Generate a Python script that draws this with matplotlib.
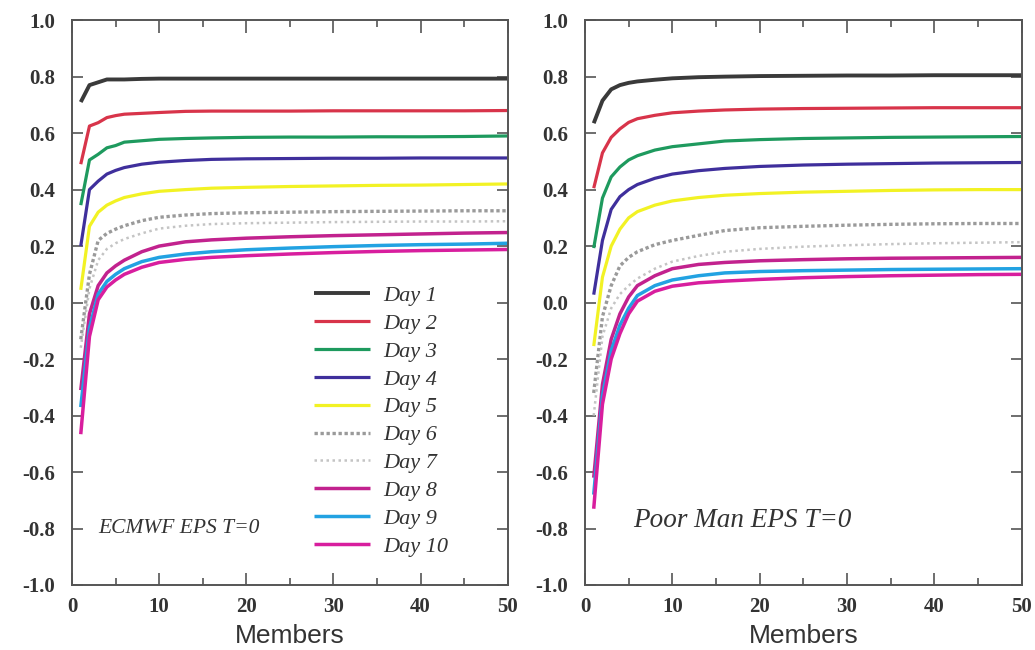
import numpy as np
import matplotlib
matplotlib.use('Agg')
from matplotlib import pyplot as plt
from matplotlib.ticker import MultipleLocator, FormatStrFormatter

# members sampled off the figure
members = [1, 2, 3, 4, 5, 6, 8, 10, 13, 16, 20, 25, 30, 35, 40, 45, 50]

days = ['Day 1', 'Day 2', 'Day 3', 'Day 4', 'Day 5',
        'Day 6', 'Day 7', 'Day 8', 'Day 9', 'Day 10']

# ECMWF EPS T=0 (left panel)
ecmwf_d1 = [0.71, 0.77, 0.78, 0.79, 0.79, 0.79, 0.792, 0.793, 0.793, 0.793, 0.793, 0.793, 0.793, 0.793, 0.793, 0.793, 0.793]
ecmwf_d2 = [0.49, 0.625, 0.637, 0.655, 0.662, 0.667, 0.670, 0.673, 0.677, 0.678, 0.678, 0.678, 0.679, 0.679, 0.679, 0.679, 0.68]
ecmwf_d3 = [0.345, 0.505, 0.525, 0.548, 0.556, 0.568, 0.573, 0.578, 0.581, 0.583, 0.585, 0.586, 0.586, 0.587, 0.587, 0.588, 0.59]
ecmwf_d4 = [0.20, 0.40, 0.43, 0.455, 0.468, 0.478, 0.49, 0.497, 0.503, 0.507, 0.509, 0.51, 0.511, 0.511, 0.512, 0.512, 0.512]
ecmwf_d5 = [0.045, 0.27, 0.32, 0.345, 0.36, 0.372, 0.385, 0.394, 0.40, 0.405, 0.408, 0.411, 0.413, 0.415, 0.416, 0.418, 0.42]
ecmwf_d6 = [-0.13, 0.10, 0.22, 0.245, 0.26, 0.272, 0.29, 0.302, 0.31, 0.315, 0.318, 0.32, 0.322, 0.323, 0.324, 0.325, 0.325]
ecmwf_d7 = [-0.16, 0.05, 0.15, 0.19, 0.21, 0.225, 0.245, 0.262, 0.272, 0.278, 0.281, 0.283, 0.285, 0.286, 0.287, 0.287, 0.288]
ecmwf_d8 = [-0.31, -0.04, 0.06, 0.105, 0.13, 0.15, 0.18, 0.2, 0.215, 0.222, 0.228, 0.233, 0.237, 0.24, 0.243, 0.246, 0.248]
ecmwf_d9 = [-0.37, -0.09, 0.03, 0.075, 0.1, 0.12, 0.145, 0.16, 0.172, 0.18, 0.187, 0.193, 0.198, 0.202, 0.205, 0.207, 0.21]
ecmwf_d10 = [-0.466, -0.12, 0.01, 0.055, 0.08, 0.10, 0.125, 0.142, 0.153, 0.16, 0.166, 0.172, 0.177, 0.181, 0.184, 0.186, 0.188]

# Poor Man EPS T=0 (right panel)
poor_d1 = [0.635, 0.715, 0.755, 0.77, 0.778, 0.783, 0.789, 0.794, 0.798, 0.80, 0.802, 0.803, 0.804, 0.804, 0.805, 0.805, 0.805]
poor_d2 = [0.405, 0.53, 0.585, 0.615, 0.638, 0.651, 0.663, 0.672, 0.678, 0.682, 0.685, 0.687, 0.688, 0.689, 0.69, 0.69, 0.69]
poor_d3 = [0.193, 0.37, 0.445, 0.48, 0.505, 0.52, 0.54, 0.552, 0.562, 0.572, 0.577, 0.581, 0.583, 0.585, 0.586, 0.587, 0.588]
poor_d4 = [0.028, 0.22, 0.33, 0.375, 0.40, 0.418, 0.44, 0.455, 0.467, 0.475, 0.482, 0.487, 0.49, 0.492, 0.494, 0.495, 0.496]
poor_d5 = [-0.154, 0.09, 0.20, 0.26, 0.30, 0.322, 0.345, 0.36, 0.372, 0.38, 0.386, 0.391, 0.394, 0.397, 0.399, 0.40, 0.40]
poor_d6 = [-0.32, -0.05, 0.06, 0.13, 0.16, 0.18, 0.205, 0.22, 0.238, 0.255, 0.265, 0.27, 0.274, 0.277, 0.279, 0.28, 0.28]
poor_d7 = [-0.40, -0.12, -0.02, 0.03, 0.06, 0.085, 0.12, 0.145, 0.165, 0.18, 0.19, 0.198, 0.203, 0.207, 0.21, 0.212, 0.214]
poor_d8 = [-0.62, -0.29, -0.13, -0.04, 0.02, 0.06, 0.095, 0.12, 0.135, 0.142, 0.148, 0.152, 0.155, 0.157, 0.158, 0.159, 0.16]
poor_d9 = [-0.68, -0.33, -0.17, -0.08, -0.02, 0.025, 0.06, 0.08, 0.095, 0.105, 0.11, 0.113, 0.115, 0.117, 0.118, 0.119, 0.12]
poor_d10 = [-0.73, -0.36, -0.20, -0.11, -0.04, 0.005, 0.04, 0.058, 0.07, 0.076, 0.082, 0.088, 0.092, 0.095, 0.097, 0.099, 0.10]

ecmwf = [ecmwf_d1, ecmwf_d2, ecmwf_d3, ecmwf_d4, ecmwf_d5,
         ecmwf_d6, ecmwf_d7, ecmwf_d8, ecmwf_d9, ecmwf_d10]
poor = [poor_d1, poor_d2, poor_d3, poor_d4, poor_d5,
        poor_d6, poor_d7, poor_d8, poor_d9, poor_d10]

# line styles per day
styles = [
    dict(color='#3a3a3a', lw=2.8, ls='-'),
    dict(color='#d8344a', lw=2.3, ls='-'),
    dict(color='#1e9a5e', lw=2.3, ls='-'),
    dict(color='#3f2f9c', lw=2.3, ls='-'),
    dict(color='#f2f224', lw=2.3, ls='-'),
    dict(color='#9a9a9a', lw=2.4, ls=(0, (1, 0.8))),
    dict(color='#c4c4c4', lw=1.8, ls=(0, (1, 1.4))),
    dict(color='#c2228e', lw=2.5, ls='-'),
    dict(color='#22a2e2', lw=2.5, ls='-'),
    dict(color='#d81e9e', lw=2.5, ls='-'),
]

txt = '#333333'
serif = ['Liberation Serif', 'DejaVu Serif']

fig = plt.figure(figsize=(10.35, 6.5), dpi=100)
ax1 = fig.add_axes([0.0696, 0.10, 0.421, 0.869])
ax2 = fig.add_axes([0.5652, 0.10, 0.422, 0.869])

for ax, data in [(ax1, ecmwf), (ax2, poor)]:
    for name, vals, st in zip(days, data, styles):
        ax.plot(members, vals, label=name, solid_capstyle='butt', **st)
    ax.set_xlim(0, 50)
    ax.set_ylim(-1.0, 1.0)
    ax.xaxis.set_major_locator(MultipleLocator(10))
    ax.xaxis.set_minor_locator(MultipleLocator(5))
    ax.yaxis.set_major_locator(MultipleLocator(0.2))
    ax.yaxis.set_major_formatter(FormatStrFormatter('%.1f'))
    ax.tick_params(which='both', direction='in', top=True, right=True,
                   colors='#555555', labelcolor=txt, width=1.2)
    ax.tick_params(which='major', length=9, labelsize=15, pad=9)
    ax.tick_params(axis='y', which='major', length=8, pad=12)
    ax.tick_params(which='minor', length=5)
    for sp in ax.spines.values():
        sp.set_color('#555555')
        sp.set_linewidth(1.4)
    ax.set_xlabel('Members', fontsize=19, color=txt,
                  family=['Liberation Sans', 'DejaVu Sans'], labelpad=5)
    for lab in ax.get_xticklabels() + ax.get_yticklabels():
        lab.set_family(serif)
        lab.set_fontweight('bold')

leg = ax1.legend(loc='lower left', bbox_to_anchor=(0.53, 0.03), frameon=False,
                 prop=dict(family=serif, style='italic', size=16),
                 labelspacing=0.33, handlelength=2.5, handletextpad=0.6,
                 borderpad=0)
for t in leg.get_texts():
    t.set_color(txt)

ax1.text(0.06, 0.10, 'ECMWF EPS T=0', transform=ax1.transAxes,
         fontsize=15.5, style='italic', family=serif, color=txt, va='center')
ax2.text(0.11, 0.115, 'Poor Man EPS T=0', transform=ax2.transAxes,
         fontsize=19.5, style='italic', family=serif, color=txt, va='center')

fig.savefig('out.png', dpi=100)
